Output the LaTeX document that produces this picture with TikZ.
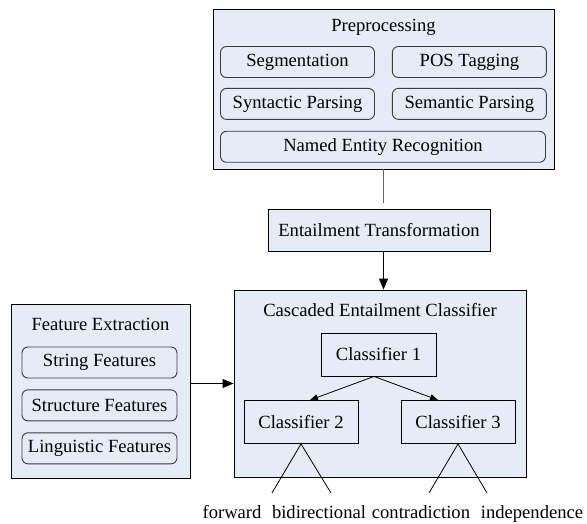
\documentclass[tikz,border=0pt]{standalone}
\definecolor{panelblue}{RGB}{230, 236, 247}
\definecolor{edgegray}{RGB}{60, 60, 60}
\definecolor{linkgray}{RGB}{100, 100, 100}
\usepackage{fontspec}
\setmainfont{Liberation Serif}
\usepackage{tikz}
\usetikzlibrary{positioning,arrows.meta}

\begin{document}
\begin{tikzpicture}[
					x=1pt, y=-1pt,
					font=\fontsize{18.6}{22}\selectfont,
					node distance=10pt and 17pt,
					group/.style={draw=black, fill=panelblue, line width=0.9pt},
					task/.style={draw=edgegray, rounded corners=6pt, fill=panelblue, line width=0.9pt,
						minimum width=154pt, minimum height=31pt, inner sep=0pt},
					unit/.style={draw=black, fill=panelblue, line width=0.9pt,
						minimum width=114pt, minimum height=43pt, inner sep=0pt},
					outcome/.style={anchor=base, inner sep=0pt},
					arr/.style={-{Triangle[length=11pt, width=9pt]}, line width=0.9pt},
					twig/.style={-{Triangle[length=8pt, width=6pt]}, line width=0.8pt},
					leg/.style={line width=0.8pt}
					]
					\useasboundingbox (0,0) rectangle (587,524);
					
					\node[group, minimum width=341pt, minimum height=160pt] (prep) at (383.5,89) {};
					\node (preptitle) at ([yshift=-19pt]prep.north) {Preprocessing};
					\node[task] (seg)  at (297.5,62)      {Segmentation};
					\node[task] (pos)  [right=of seg]     {POS Tagging};
					\node[task] (syn)  [below=of seg]     {Syntactic Parsing};
					\node[task] (sem)  [right=of syn]     {Semantic Parsing};
					\node[task, minimum width=325pt, below=11pt of syn.south west, anchor=north west] (ner) {Named Entity Recognition};
					
					\node[unit, minimum width=222pt, minimum height=42pt] (trans) at (379,230) {Entailment Transformation};
					
					\node[group, minimum width=292pt, minimum height=187pt] (cascade) at (380,383.5) {};
					\node (castitle) at ([yshift=-20pt]cascade.north) {Cascaded Entailment Classifier};
					\node[unit, minimum width=115pt] (cls1) at (378.5,354.5) {Classifier 1};
					\node[unit] (cls2) at (301,422) {Classifier 2};
					\node[unit] (cls3) at (458,422) {Classifier 3};
					
					\node[group, minimum width=179pt, minimum height=174pt] (feat) at (100.5,391) {};
					\node (feattitle) at ([yshift=-21pt]feat.north) {Feature Extraction};
					\node[task, minimum width=155pt] (strf)  at (99.5,362.5)  {String Features};
					\node[task, minimum width=155pt] (struf) [below=11pt of strf]  {Structure Features};
					\node[task, minimum width=155pt] (lingf) [below=11pt of struf] {Linguistic Features};
					
					\coordinate (fwdend) at (272,493);
					\coordinate (bidend) at (331,493);
					\coordinate (conend) at (429,493);
					\coordinate (indend) at (487,493);
					\node[outcome] (fwd) at (232,518) {forward};
					\node[outcome] (bid) at (319,518) {bidirectional};
					\node[outcome] (con) at (421,518) {contradiction};
					\node[outcome] (ind) at (532,518) {independence};
					
					\draw[linkgray, line width=0.9pt, shorten >=6pt] (prep.south) -- (prep.south |- trans.north);
					\draw[arr] (trans.south -| prep.south) -- (cascade.north -| prep.south);
					\draw[arr] (feat.east |- cascade.west) -- (cascade.west);
					\draw[twig] ([xshift=-4.5pt]cls1.south) -- ([xshift=9pt]cls2.north);
					\draw[twig] ([xshift=-4.5pt]cls1.south) -- ([xshift=-20pt]cls3.north);
					\draw[leg] (fwdend) -- (cls2.south) -- (bidend);
					\draw[leg] (conend) -- (cls3.south) -- (indend);
				\end{tikzpicture}
\end{document}
